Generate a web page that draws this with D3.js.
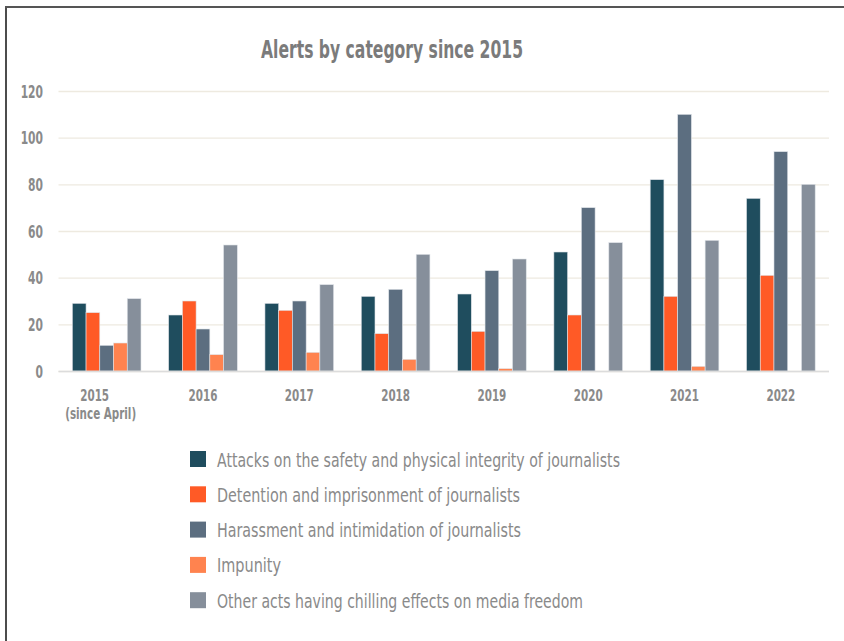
<!DOCTYPE html>
<html>
<head>
<meta charset="utf-8">
<script src="https://cdn.jsdelivr.net/npm/d3@7"></script>
<style>
  body { margin: 0; background: #fff; }
  text { font-family: "Liberation Sans Narrow", "DejaVu Sans Condensed", "Roboto", sans-serif; }
</style>
</head>
<body>
<div id="chart"></div>
<script>
var years = ["2015", "2016", "2017", "2018", "2019", "2020", "2021", "2022"];
var yearLabels = [["2015", "(since April)"], ["2016"], ["2017"], ["2018"], ["2019"], ["2020"], ["2021"], ["2022"]];
var seriesNames = [
    "Attacks on the safety and physical integrity of journalists",
    "Detention and imprisonment of journalists",
    "Harassment and intimidation of journalists",
    "Impunity",
    "Other acts having chilling effects on media freedom"
];
var attacks    = [29, 24, 29, 32, 33, 51, 82, 74];
var detention  = [25, 30, 26, 16, 17, 24, 32, 41];
var harassment = [11, 18, 30, 35, 43, 70, 110, 94];
var impunity   = [12, 7, 8, 5, 1, 0, 2, 0];
var other      = [31, 54, 37, 50, 48, 55, 56, 80];
var yTicks = [0, 20, 40, 60, 80, 100, 120];
var colors = ["#1f4d5e", "#ff5a26", "#5c6e80", "#ff834f", "#868f9b"];

var allSeries = [attacks, detention, harassment, impunity, other];
var data = years.map(function (y, i) {
    return { year: y, values: allSeries.map(function (s, k) { return { key: k, value: s[i] }; }) };
});

// squeeze text horizontally so it looks like a condensed face
function condense(sel, factor) {
    sel.each(function () {
        var len = this.getComputedTextLength();
        d3.select(this)
            .attr("textLength", len * factor)
            .attr("lengthAdjust", "spacingAndGlyphs");
    });
}

var W = 844, H = 641;
var margin = { top: 91, left: 58.5, right: 15, bottom: 270 };

var svg = d3.select("#chart").append("svg")
    .attr("width", W)
    .attr("height", H);

// frame
svg.append("line").attr("x1", 6).attr("x2", 6).attr("y1", 6).attr("y2", H)
    .attr("stroke", "#111").attr("stroke-width", 1.5);
svg.append("line").attr("x1", 5).attr("x2", W).attr("y1", 7).attr("y2", 7)
    .attr("stroke", "#555").attr("stroke-width", 2);

var x0 = d3.scaleBand()
    .domain(years)
    .range([margin.left, 829])
    .paddingInner(0.287)
    .paddingOuter(0.1435);

var x1 = d3.scaleBand()
    .domain(d3.range(seriesNames.length))
    .range([0, x0.bandwidth()]);

var y = d3.scaleLinear()
    .domain([0, 120])
    .range([371, 91]);

// gridlines
svg.append("g")
    .attr("transform", "translate(" + margin.left + ",0)")
    .call(d3.axisLeft(y).tickValues(yTicks).tickSize(-(829 - margin.left)).tickFormat(""))
    .call(function (g) {
        g.select(".domain").remove();
        g.selectAll("line").attr("stroke", "#eeeae0").attr("stroke-width", 1.3);
    });

// y tick labels
svg.append("g")
    .attr("transform", "translate(43,0)")
    .call(d3.axisLeft(y).tickValues(yTicks).tickSize(0).tickPadding(0))
    .call(function (g) {
        g.select(".domain").remove();
        g.selectAll("text")
            .attr("fill", "#8a8a8a")
            .attr("font-size", "17px")
            .attr("font-weight", "bold")
            .attr("dy", "0.36em")
            .call(condense, 0.7);
    });

// bars
var groups = svg.append("g").selectAll("g")
    .data(data)
    .enter().append("g")
    .attr("transform", function (d) { return "translate(" + x0(d.year) + ",0)"; });

groups.selectAll("rect")
    .data(function (d) { return d.values; })
    .enter().append("rect")
    .attr("x", function (d) { return x1(d.key); })
    .attr("y", function (d) { return y(d.value); })
    .attr("width", x1.bandwidth())
    .attr("height", function (d) { return y(0) - y(d.value); })
    .attr("fill", function (d) { return colors[d.key]; })
    .attr("stroke", "#dfe3e8")
    .attr("stroke-width", 0.6);

// baseline
svg.append("line")
    .attr("x1", margin.left).attr("x2", 829)
    .attr("y1", y(0) + 0.5).attr("y2", y(0) + 0.5)
    .attr("stroke", "#dcdcdc").attr("stroke-width", 1.5);

// x axis labels
var xAxis = svg.append("g")
    .attr("transform", "translate(0," + (y(0) + 30) + ")")
    .call(d3.axisBottom(x0).tickSize(0).tickPadding(0).tickFormat(""));
xAxis.select(".domain").remove();
xAxis.selectAll(".tick").each(function (d, i) {
    var g = d3.select(this);
    yearLabels[i].forEach(function (line, j) {
        g.append("text")
            .attr("fill", "#8a8a8a")
            .attr("font-size", "16px")
            .attr("font-weight", "bold")
            .attr("text-anchor", "middle")
            .attr("x", i === 0 ? (j === 0 ? -12 : -6) : 0)
            .attr("y", j * 18)
            .text(line)
            .call(condense, 0.72);
    });
});

// title
svg.append("text")
    .attr("x", 392)
    .attr("y", 58)
    .attr("text-anchor", "middle")
    .attr("fill", "#7b7b7b")
    .attr("font-size", "25px")
    .attr("font-weight", "bold")
    .attr("textLength", 262)
    .attr("lengthAdjust", "spacingAndGlyphs")
    .text("Alerts by category since 2015");

// legend
var legendWidths = [403, 303, 304, 64, 366];
var legend = svg.append("g").selectAll("g")
    .data(seriesNames)
    .enter().append("g")
    .attr("transform", function (d, i) { return "translate(190," + (451 + i * 35.3) + ")"; });

legend.append("rect")
    .attr("width", 16)
    .attr("height", 16)
    .attr("fill", function (d, i) { return colors[i]; });

legend.append("text")
    .attr("x", 27)
    .attr("y", 15.5)
    .attr("fill", "#8a8a8a")
    .attr("font-size", "20px")
    .attr("textLength", function (d, i) { return legendWidths[i]; })
    .attr("lengthAdjust", "spacingAndGlyphs")
    .text(function (d) { return d; });
</script>
</body>
</html>
